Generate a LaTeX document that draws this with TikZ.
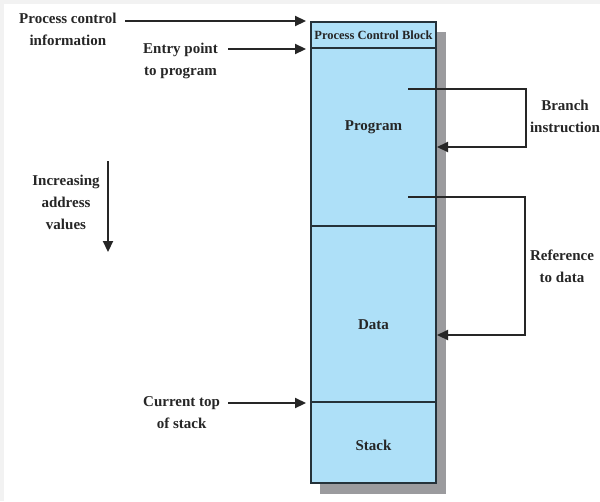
\documentclass[tikz,border=0pt]{standalone}
\usepackage{fontspec}
\setmainfont{Liberation Serif}
\usetikzlibrary{arrows.meta}
\definecolor{segfill}{HTML}{AEE0F8}
\definecolor{segline}{HTML}{25323A}
\definecolor{shadowgray}{HTML}{9B9B9E}
\definecolor{framegray}{HTML}{F2F2F2}
\tikzset{
  lbl/.style={font=\bfseries\fontsize{15}{22}\selectfont, align=center, inner sep=0pt, text=black!85},
  seg/.style={draw=segline, line width=1.8pt, fill=segfill},
  ptr/.style={line width=2.2pt, draw=black!85, -{Triangle[length=11pt,width=10pt]}},
}
\begin{document}
\begin{tikzpicture}[x=1pt,y=-1pt]
\useasboundingbox (0,0) rectangle (600,501);
\fill[white] (0,0) rectangle (600,501);
% faint frame along the top and left edges
\fill[framegray] (0,0) rectangle (600,4);
\fill[framegray] (0,0) rectangle (4,501);

% drop shadow of the memory image
\fill[shadowgray] (320,32) rectangle (446,494);

% memory segments
\draw[seg] (311,22) rectangle (436,48);
\draw[seg] (311,48) rectangle (436,226);
\draw[seg] (311,226) rectangle (436,402);
\draw[seg] (311,402) rectangle (436,483);

\node[lbl, font=\bfseries\fontsize{12.5}{13}\selectfont] (pcb) at (373.5,35.5) {Process Control Block};
\node[lbl] (prog) at (373.5,127) {Program};
\node[lbl] (data) at (373.5,325) {Data};
\node[lbl] (stack) at (373.5,445) {Stack};

% anchor points on the left edge of the image
\coordinate (pcbtop) at (306,21);
\coordinate (entry) at (306,49);
\coordinate (sp) at (306,403);

% labels on the left
\node[lbl, anchor=west] (pci) at (19,29) {Process control\\information};
\node[lbl, anchor=west] (ep) at (143,61) {Entry point\\to program};
\node[lbl, anchor=west] (cts) at (143,413) {Current top\\of stack};
\node[lbl] (inc) at (66,202) {Increasing\\address\\values};

\draw[ptr] (125,21) -- (pcbtop);
\draw[ptr] (228,49) -- (entry);
\draw[ptr] (228,403) -- (sp);

\coordinate (downtop) at (108,161);
\coordinate (downbot) at (108,252);
\draw[ptr] (downtop) -- (downbot);

% branch and data reference loops
\coordinate (brsrc) at (408,89);
\coordinate (brdst) at (437,147);
\draw[ptr] (brsrc) -- (526,89) -- (526,147) -- (brdst);
\node[lbl] (br) at (565,116) {Branch\\instruction};

\coordinate (refsrc) at (408,197);
\coordinate (refdst) at (437,335);
\draw[ptr] (refsrc) -- (525,197) -- (525,335) -- (refdst);
\node[lbl] (ref) at (562,266) {Reference\\to data};
\end{tikzpicture}
\end{document}
